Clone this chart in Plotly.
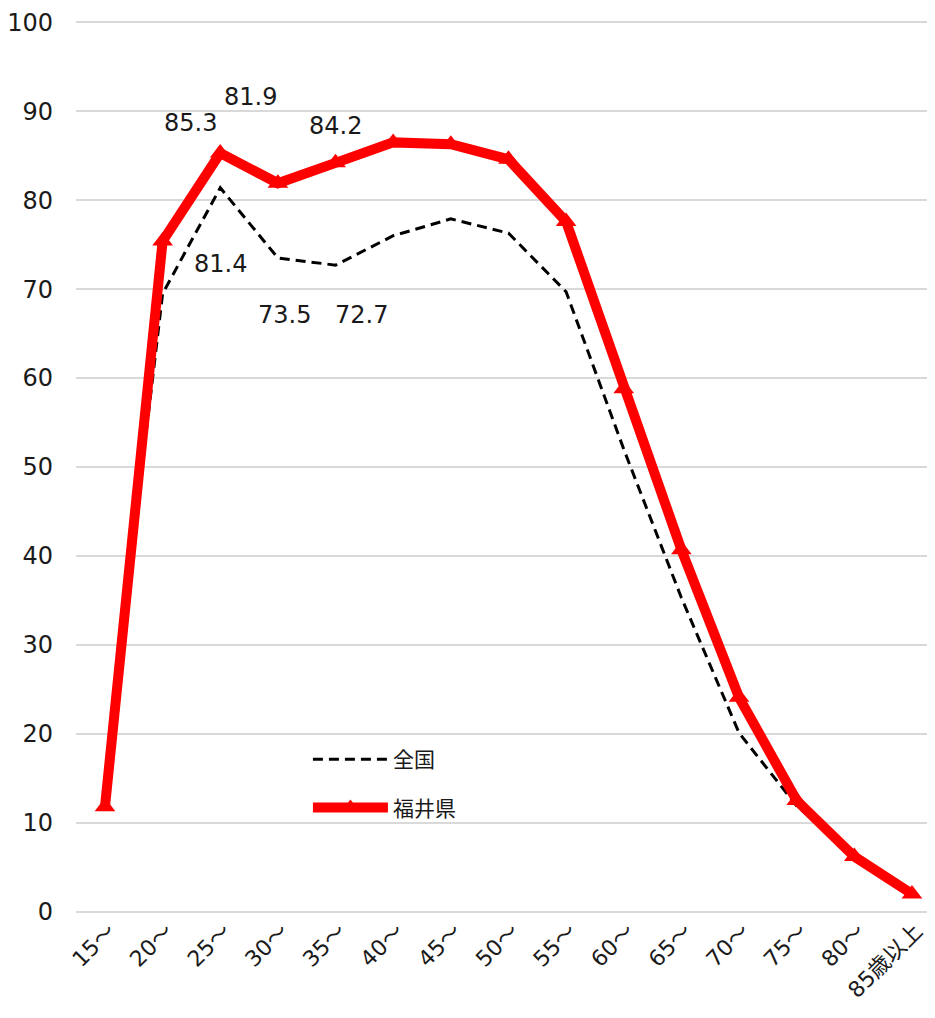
import plotly.graph_objects as go

categories = ["15～", "20～", "25～", "30～", "35～", "40～", "45～", "50～",
              "55～", "60～", "65～", "70～", "75～", "80～", "85歳以上"]
national = [14.7, 69.5, 81.4, 73.5, 72.7, 76.0, 77.9, 76.3, 69.7, 52.0, 35.3, 20.1, 11.9, 6.4, 1.9]
fukui = [11.8, 75.4, 85.3, 81.9, 84.2, 86.5, 86.3, 84.6, 77.6, 58.8, 40.7, 24.1, 12.5, 6.2, 2.0]
yticks = [0, 10, 20, 30, 40, 50, 60, 70, 80, 90, 100]

# labelled points: (series, category index, xshift, yshift)
labels = [
    ("fukui", 2, -30, 30),
    ("fukui", 3, -27, 86),
    ("fukui", 4, 0, 37),
    ("national", 2, 0, -76),
    ("national", 3, 7, -57),
    ("national", 4, 26, -50),
]

FONT = "DejaVu Sans, Noto Sans CJK JP, sans-serif"
TXT = "#1a1a1a"

fig = go.Figure()
fig.add_trace(go.Scatter(
    x=categories, y=national, name="全国", mode="lines",
    line=dict(color="black", width=3, dash="10px,6px"),
    legendgroup="a", cliponaxis=False,
))
fig.add_trace(go.Scatter(
    x=categories, y=fukui, name="福井県", mode="lines+markers",
    line=dict(color="#ff0000", width=10),
    marker=dict(symbol="triangle-up", size=18, color="#ff0000"),
    legendgroup="b", cliponaxis=False,
))

series = {"fukui": fukui, "national": national}
for s, i, dx, dy in labels:
    v = series[s][i]
    fig.add_annotation(x=categories[i], y=v, text=f"{v:.1f}", showarrow=False,
                       xshift=dx, yshift=dy,
                       font=dict(size=24, color=TXT, family=FONT))

fig.update_layout(
    width=927, height=1002,
    margin=dict(l=68, r=0, t=13, b=97),
    paper_bgcolor="white", plot_bgcolor="white",
    font=dict(family=FONT, color=TXT),
    showlegend=True,
    legend=dict(x=0.27, y=0.195, xanchor="left", yanchor="top",
                bgcolor="rgba(0,0,0,0)",
                font=dict(size=21, color=TXT, family="Noto Sans CJK JP, sans-serif"),
                tracegroupgap=18, itemwidth=75),
    xaxis=dict(type="category", range=[-0.503, 14.40], showgrid=False,
               showline=False, zeroline=False, ticks="", automargin=False,
               ticklabelshift=4,
               tickangle=-45, tickfont=dict(size=22, color=TXT, family=FONT)),
    yaxis=dict(range=[-0.15, 100.15], tickvals=yticks, showgrid=True, gridcolor="#d9d9d9",
               gridwidth=1.5, zeroline=False, showline=False, ticks="",
               ticklabelstandoff=22, automargin=False,
               tickfont=dict(size=24, color=TXT, family=FONT)),
)

fig.write_html("out.html")
